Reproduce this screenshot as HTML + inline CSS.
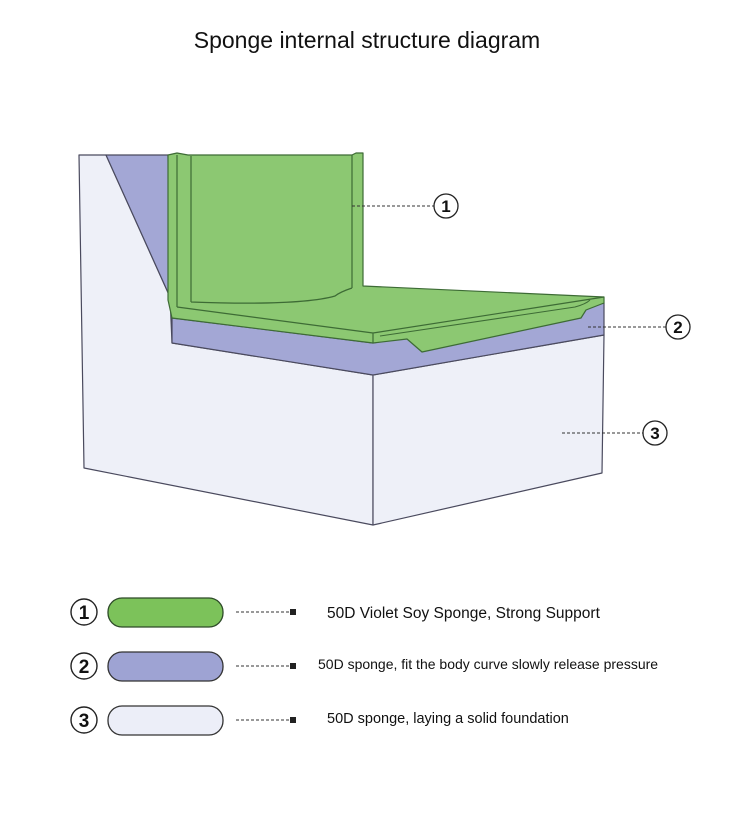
<!DOCTYPE html>
<html><head><meta charset="utf-8"><style>
html,body{margin:0;padding:0;background:#fff;}
svg{display:block}
text{font-family:"Liberation Sans",sans-serif;}
</style></head><body>
<svg width="750" height="814" viewBox="0 0 750 814" xmlns="http://www.w3.org/2000/svg">
<text x="367" y="48" font-size="23" text-anchor="middle" fill="#111">Sponge internal structure diagram</text>
<g stroke="#4a4a5e" stroke-width="1.2" stroke-linejoin="round">
<polygon points="79,155 106,155 170,297 172,343 373,375 373,525 84,468" fill="#eef0f8"/>
<polygon points="106,155 168,155 170,297" fill="#a3a7d5"/>
<polygon points="373,375 604,335 602,473 373,525" fill="#eef0f8"/>
<polygon points="172,318 373,343 604,303 604,335 373,375 172,343" fill="#a3a7d5"/>
<!-- green backrest + seat -->
<polygon points="168,155 177,153 188,155 352,155 356,153 363,153 363,286 604,297 604,303 586,310 581,318 422,352 407,339 373,343 172,318 168,300" fill="#8cc872" stroke="#3d6b35"/>
<path d="M191,156 L191,302 M352,155 L352,288 M177,155 L177,307 M177,307 L373,333 L604,297 M373,333 L373,343 M352,288 Q340,292 335,296 Q300,306 191,302" fill="none" stroke="#3d6b35"/>
<path d="M380,336 L575,307 Q586,304 590,300" fill="none" stroke="#3d6b35" stroke-width="1"/>
</g>
<g stroke="#333" stroke-width="1" stroke-dasharray="3,2" fill="none">
<line x1="352" y1="206" x2="434" y2="206"/>
<line x1="588" y1="327" x2="666" y2="327"/>
<line x1="562" y1="433" x2="643" y2="433"/>
</g>
<g fill="#fff" stroke="#222" stroke-width="1.3">
<circle cx="446" cy="206" r="12"/><circle cx="678" cy="327" r="12"/><circle cx="655" cy="433" r="12"/>
</g>
<g font-size="17" font-weight="bold" text-anchor="middle" fill="#111">
<text x="446" y="212">1</text><text x="678" y="333">2</text><text x="655" y="439">3</text>
</g>
<g fill="#fff" stroke="#222" stroke-width="1.4">
<circle cx="84" cy="612" r="13"/><circle cx="84" cy="666" r="13"/><circle cx="84" cy="720" r="13"/>
</g>
<g font-size="19" font-weight="bold" text-anchor="middle" fill="#111">
<text x="84" y="619">1</text><text x="84" y="673">2</text><text x="84" y="727">3</text>
</g>
<rect x="108" y="598" width="115" height="29" rx="14" fill="#7cc25a" stroke="#2d4a28" stroke-width="1.3"/>
<rect x="108" y="652" width="115" height="29" rx="14" fill="#9ea3d3" stroke="#333" stroke-width="1.3"/>
<rect x="108" y="706" width="115" height="29" rx="14" fill="#eceef8" stroke="#333" stroke-width="1.3"/>
<g stroke="#333" stroke-width="1" stroke-dasharray="3,2">
<line x1="236" y1="612" x2="290" y2="612"/><line x1="236" y1="666" x2="290" y2="666"/><line x1="236" y1="720" x2="290" y2="720"/>
</g>
<g fill="#222"><rect x="290" y="609" width="6" height="6"/><rect x="290" y="663" width="6" height="6"/><rect x="290" y="717" width="6" height="6"/></g>
<g fill="#111">
<text x="327" y="618" font-size="15.5">50D Violet Soy Sponge, Strong Support</text>
<text x="318" y="669" font-size="14">50D sponge, fit the body curve slowly release pressure</text>
<text x="327" y="723" font-size="14.5">50D sponge, laying a solid foundation</text>
</g>
</svg>
</body></html>
